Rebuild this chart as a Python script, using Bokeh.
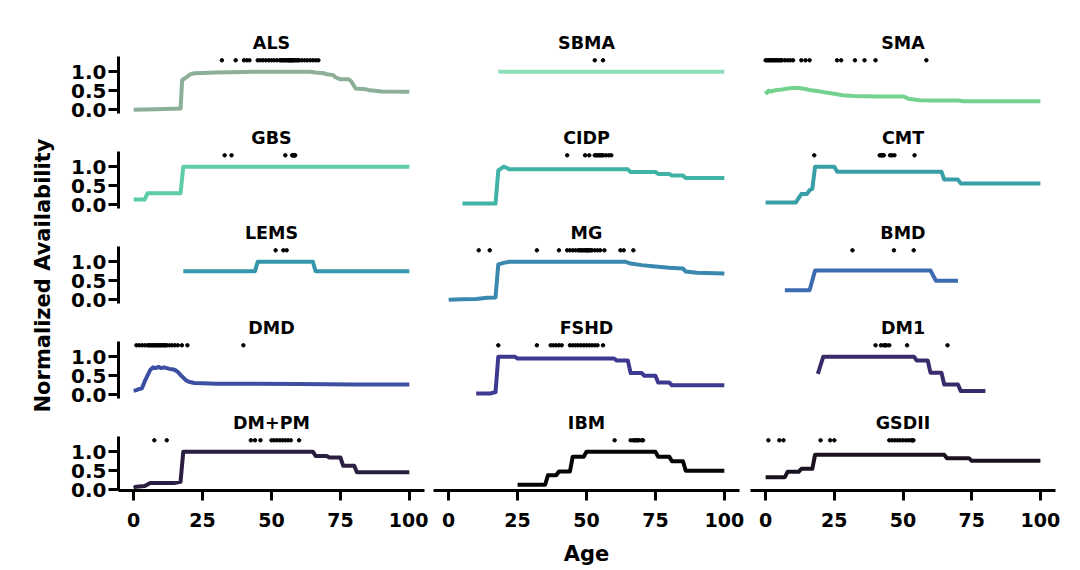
import math
from bokeh.plotting import figure
from bokeh.layouts import row, column
from bokeh.models import Range1d, FixedTicker, NumeralTickFormatter, Label
from bokeh.embed import file_html
from bokeh.resources import INLINE

# ---------------- data ----------------
diseases = ["ALS", "SBMA", "SMA",
            "GBS", "CIDP", "CMT",
            "LEMS", "MG", "BMD",
            "DMD", "FSHD", "DM1",
            "DM+PM", "IBM", "GSDII"]

colors = ["#8DAF98", "#8EDCB8", "#74D28E",
          "#5DCDA9", "#40B3A7", "#389FA8",
          "#3597AB", "#3A88B0", "#3C6CB0",
          "#3D4FA2", "#3E3990", "#3A2B6C",
          "#2A1F40", "#060606", "#1A1220"]

x_ticks = [0, 25, 50, 75, 100]
y_ticks = [0.0, 0.5, 1.0]
dot_level = 1.3
x_title = "Age"
y_title = "Normalized Availability"

ALS_age = [0, 8, 17, 17.6, 18.5, 20.5, 22, 30, 45, 64, 66, 69, 70, 72.5, 73, 75, 78, 79, 80.5, 84, 85, 90, 100]
ALS_val = [0.0, 0.01, 0.03, 0.78, 0.82, 0.93, 0.96, 0.98, 1.0, 1.0, 0.98, 0.96, 0.93, 0.91, 0.86, 0.8, 0.8, 0.74, 0.56, 0.54, 0.52, 0.48, 0.47]
ALS_pts = [32, 37, 40, 41, 42, 45, 46, 47, 48, 49, 50, 51, 52, 53, 53.5, 54, 54.5, 55, 55.5, 56, 56.3,
           56.6, 57, 57.3, 57.6, 58, 58.5, 59, 59.5, 60, 61, 62, 63, 64, 65, 66, 67]

SBMA_age = [18, 100]
SBMA_val = [1.0, 1.0]
SBMA_pts = [53, 56]

SMA_age = [0, 0.5, 1, 2, 4, 6, 8, 10, 12, 14, 16, 18, 20, 22, 25, 28, 32, 40, 50, 52, 56, 60, 70, 72, 100]
SMA_val = [0.5, 0.44, 0.5, 0.48, 0.52, 0.53, 0.56, 0.57, 0.57, 0.55, 0.52, 0.5, 0.48, 0.45, 0.42, 0.38,
           0.36, 0.35, 0.35, 0.29, 0.25, 0.24, 0.24, 0.22, 0.22]
SMA_pts = [0, 0.5, 1, 1.5, 2, 2.5, 3, 3.5, 4, 4.5, 5, 5.5, 6, 7, 8, 9, 10, 13, 14.5, 16, 26, 27.5,
           32.5, 36, 40, 58.5]

GBS_age = [0, 4, 5, 17, 18, 100]
GBS_val = [0.14, 0.14, 0.3, 0.3, 1.0, 1.0]
GBS_pts = [33, 35.5, 55, 57.5, 57.8, 58, 58.2, 58.4, 58.6]

CIDP_age = [5, 17, 18, 19, 20, 21, 22, 65, 66, 75, 76, 80, 81, 85, 86, 100]
CIDP_val = [0.03, 0.03, 0.9, 0.95, 1.0, 0.97, 0.93, 0.93, 0.86, 0.86, 0.81, 0.81, 0.77, 0.77, 0.7, 0.7]
CIDP_pts = [43, 49.5, 51, 53, 53.5, 54, 54.5, 55, 55.5, 56, 57, 58, 59]

CMT_age = [0, 11, 13, 15, 16, 17, 18, 25, 26, 64, 65, 70, 71, 100]
CMT_val = [0.06, 0.06, 0.28, 0.28, 0.38, 0.42, 1.0, 1.0, 0.87, 0.87, 0.66, 0.66, 0.56, 0.56]
CMT_pts = [17.7, 41.5, 42, 42.3, 42.7, 43, 45.3, 46, 46.9, 54.2]

LEMS_age = [18, 44, 45, 65, 66, 100]
LEMS_val = [0.75, 0.75, 1.0, 1.0, 0.75, 0.75]
LEMS_pts = [51.5, 54.3, 55.5]

MG_age = [0, 5, 10, 14, 17, 18, 20, 22, 64, 66, 70, 74, 80, 85, 86, 90, 100]
MG_val = [0.0, 0.01, 0.02, 0.05, 0.06, 0.93, 0.97, 1.0, 1.0, 0.95, 0.91, 0.88, 0.84, 0.82, 0.74, 0.71, 0.69]
MG_pts = [10.9, 14.9, 32, 40, 43, 44, 45, 46, 47, 47.5, 48, 48.5, 49, 49.5, 50, 50.3, 50.5, 51, 51.5,
          52, 53, 54, 55, 56.5, 62.3, 63.5, 67]

BMD_age = [7, 16, 18, 60, 62, 70]
BMD_val = [0.25, 0.25, 0.77, 0.77, 0.5, 0.5]
BMD_pts = [31.6, 46.7, 53.9]

DMD_age = [0, 1, 2, 3, 4, 5, 6, 7, 8, 9, 10, 11, 12, 13, 14, 15, 16, 17, 18, 19, 20, 22, 25, 30,
           40, 60, 80, 100]
DMD_val = [0.1, 0.12, 0.15, 0.17, 0.35, 0.5, 0.65, 0.72, 0.7, 0.73, 0.7, 0.72, 0.7, 0.68, 0.67, 0.65,
           0.6, 0.52, 0.45, 0.38, 0.34, 0.31, 0.3, 0.29, 0.29, 0.28, 0.27, 0.27]
DMD_pts = [1, 2, 3, 4, 5, 5.5, 6, 6.5, 7, 7.5, 8, 8.5, 9, 9.5, 10, 10.5, 11, 11.5, 12, 13, 14, 15,
           16, 17.5, 19.5, 39.8]

FSHD_age = [10, 15, 17, 18, 24, 25, 60, 61, 65, 66, 70, 71, 75, 76, 80, 81, 100]
FSHD_val = [0.03, 0.03, 0.07, 1.0, 1.0, 0.95, 0.95, 0.9, 0.9, 0.57, 0.57, 0.5, 0.5, 0.32, 0.32, 0.25, 0.25]
FSHD_pts = [18, 32, 37, 38, 39, 40, 41, 44, 45, 46, 47, 48, 49, 50, 51, 52, 53, 54, 56]

DM1_age = [19, 21, 54, 55, 59, 60, 64, 65, 70, 71, 80]
DM1_val = [0.55, 1.0, 1.0, 0.9, 0.9, 0.58, 0.58, 0.27, 0.27, 0.1, 0.1]
DM1_pts = [40, 42, 43, 43.5, 44, 45, 51.5, 66.2]

DMPM_age = [0, 1, 4, 6, 15, 17, 18, 65, 66, 70, 71, 75, 76, 80, 81, 100]
DMPM_val = [0.05, 0.08, 0.1, 0.18, 0.18, 0.21, 1.0, 1.0, 0.89, 0.89, 0.85, 0.85, 0.63, 0.63, 0.46, 0.46]
DMPM_pts = [7.5, 12, 42.5, 44, 46, 50, 51, 52, 53, 54, 55, 56, 57, 60]

IBM_age = [25, 35, 36, 39, 40, 44, 45, 49, 50, 75, 76, 80, 81, 85, 86, 100]
IBM_val = [0.13, 0.13, 0.38, 0.38, 0.48, 0.48, 0.87, 0.87, 1.0, 1.0, 0.87, 0.87, 0.75, 0.75, 0.5, 0.5]
IBM_pts = [60.2, 66, 67, 67.5, 68, 68.5, 69, 70, 70.5]

GSDII_age = [0, 7, 8, 12, 13, 17, 18, 65, 66, 74, 75, 100]
GSDII_val = [0.33, 0.33, 0.47, 0.47, 0.55, 0.55, 0.92, 0.92, 0.83, 0.83, 0.76, 0.76]
GSDII_pts = [1, 5, 6.5, 20, 23.5, 25, 45, 46, 47, 48, 49, 50, 51, 52, 53, 53.5, 53.8]

series = {
    "ALS": (ALS_age, ALS_val, ALS_pts),
    "SBMA": (SBMA_age, SBMA_val, SBMA_pts),
    "SMA": (SMA_age, SMA_val, SMA_pts),
    "GBS": (GBS_age, GBS_val, GBS_pts),
    "CIDP": (CIDP_age, CIDP_val, CIDP_pts),
    "CMT": (CMT_age, CMT_val, CMT_pts),
    "LEMS": (LEMS_age, LEMS_val, LEMS_pts),
    "MG": (MG_age, MG_val, MG_pts),
    "BMD": (BMD_age, BMD_val, BMD_pts),
    "DMD": (DMD_age, DMD_val, DMD_pts),
    "FSHD": (FSHD_age, FSHD_val, FSHD_pts),
    "DM1": (DM1_age, DM1_val, DM1_pts),
    "DM+PM": (DMPM_age, DMPM_val, DMPM_pts),
    "IBM": (IBM_age, IBM_val, IBM_pts),
    "GSDII": (GSDII_age, GSDII_val, GSDII_pts),
}

# ---------------- layout ----------------
FONT = "DejaVu Sans"
LABEL_W = 66
AGE_H = 30
col_bl = [52, 5, 6]
col_br = [4, 5, 12]
col_fw = [306, 306, 305]
row_top = [56, 30, 30, 30, 30]
row_fh = [57, 57, 57, 57, 54]
row_bb = [8, 8, 8, 8, 48]


def style_axis(ax, size):
    ax.axis_line_width = 3
    ax.axis_line_color = "black"
    ax.major_tick_line_width = 3
    ax.major_tick_line_color = "black"
    ax.major_tick_out = 10
    ax.major_tick_in = 0
    ax.minor_tick_line_color = None
    ax.major_label_text_font = FONT
    ax.major_label_text_font_style = "bold"
    ax.major_label_text_font_size = size
    ax.major_label_text_color = "black"


def blank_fig(w, h):
    f = figure(width=w, height=h, x_range=Range1d(0, w), y_range=Range1d(0, h),
               x_axis_location=None, y_axis_location=None, min_border=0,
               toolbar_location=None, output_backend="svg")
    f.outline_line_color = None
    f.xgrid.grid_line_color = None
    f.ygrid.grid_line_color = None
    return f


rows = []
for r in range(5):
    figs = []
    for c in range(3):
        name = diseases[r * 3 + c]
        ages, vals, pts = series[name]
        left = (c == 0)
        bottom = (r == 4)
        ylo = -0.02 if bottom else -0.1
        p = figure(width=col_bl[c] + col_fw[c] + col_br[c],
                   height=row_top[r] + row_fh[r] + row_bb[r],
                   x_range=Range1d(-5.5, 105.5), y_range=Range1d(ylo, 1.4),
                   x_axis_location="below" if bottom else None,
                   y_axis_location="left" if left else None,
                   min_border_left=col_bl[c], min_border_right=col_br[c],
                   min_border_top=row_top[r], min_border_bottom=row_bb[r],
                   toolbar_location=None, output_backend="svg", title=name)
        p.outline_line_color = None
        p.xgrid.grid_line_color = None
        p.ygrid.grid_line_color = None
        p.background_fill_color = "white"
        p.border_fill_color = "white"
        p.title.align = "center"
        p.title.text_font = FONT
        p.title.text_font_style = "bold"
        p.title.text_font_size = "17.5px"
        p.title.text_color = "black"
        p.title.standoff = 7
        if left:
            ax = p.yaxis[0]
            style_axis(ax, "20px")
            ax.ticker = FixedTicker(ticks=y_ticks)
            ax.formatter = NumeralTickFormatter(format="0.0")
            ax.major_label_standoff = 2
        if bottom:
            ax = p.xaxis[0]
            style_axis(ax, "19px")
            ax.ticker = FixedTicker(ticks=x_ticks)
            ax.major_label_standoff = 12
        p.line(x=ages, y=vals, line_width=4, color=colors[r * 3 + c], line_join="round")
        p.scatter(x=pts, y=[dot_level] * len(pts), size=3.5, color="black")
        figs.append(p)
    rows.append(row(*figs))

grid_w = sum(col_bl) + sum(col_fw) + sum(col_br)
age_fig = blank_fig(grid_w, AGE_H)
mid_center = col_bl[0] + col_fw[0] + col_br[0] + col_bl[1] + col_fw[1] / 2
age_fig.add_layout(Label(x=mid_center, y=AGE_H - 15, text=x_title,
                         text_align="center", text_baseline="middle", text_font=FONT,
                         text_font_style="bold", text_font_size="21px", text_color="black"))

total_h = sum(row_top) + sum(row_fh) + sum(row_bb) + AGE_H
yl = blank_fig(LABEL_W, total_h)
yl.add_layout(Label(x=42, y=total_h - 275, text=y_title, angle=math.pi / 2,
                    text_align="center", text_baseline="middle", text_font=FONT,
                    text_font_style="bold", text_font_size="21px", text_color="black"))

layout = row(yl, column(*rows, age_fig))
open("out.html", "w").write(file_html(layout, INLINE))
